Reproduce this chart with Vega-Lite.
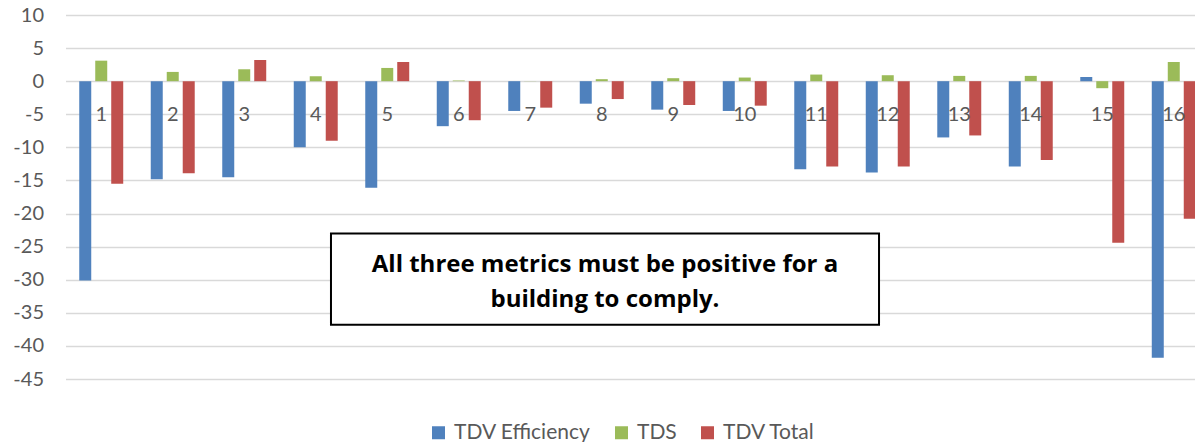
{
  "$schema": "https://vega.github.io/schema/vega-lite/v6.json",
  "autosize": "none",
  "width": 1129.5,
  "height": 364,
  "padding": {"left": 65.5, "top": 15, "right": 0, "bottom": 63},
  "background": "white",
  "config": {
    "view": {"stroke": null},
    "font": "Lato",
    "axisY": {
      "labelOverlap": false, "labelFlush": false,
      "domain": false, "ticks": false,
      "labelPadding": 22, "labelFontSize": 20, "labelColor": "#595959",
      "gridColor": "#D9D9D9", "gridWidth": 1.5
    }
  },
  "datasets": {
    "bars": [
      {"building": 1, "metric": "TDV Efficiency", "value": -30.1},
      {"building": 1, "metric": "TDS", "value": 3.1},
      {"building": 1, "metric": "TDV Total", "value": -15.5},
      {"building": 2, "metric": "TDV Efficiency", "value": -14.8},
      {"building": 2, "metric": "TDS", "value": 1.4},
      {"building": 2, "metric": "TDV Total", "value": -13.9},
      {"building": 3, "metric": "TDV Efficiency", "value": -14.5},
      {"building": 3, "metric": "TDS", "value": 1.8},
      {"building": 3, "metric": "TDV Total", "value": 3.2},
      {"building": 4, "metric": "TDV Efficiency", "value": -10.0},
      {"building": 4, "metric": "TDS", "value": 0.75},
      {"building": 4, "metric": "TDV Total", "value": -9.0},
      {"building": 5, "metric": "TDV Efficiency", "value": -16.1},
      {"building": 5, "metric": "TDS", "value": 2.0},
      {"building": 5, "metric": "TDV Total", "value": 2.9},
      {"building": 6, "metric": "TDV Efficiency", "value": -6.8},
      {"building": 6, "metric": "TDS", "value": 0.1},
      {"building": 6, "metric": "TDV Total", "value": -5.9},
      {"building": 7, "metric": "TDV Efficiency", "value": -4.5},
      {"building": 7, "metric": "TDS", "value": 0.02},
      {"building": 7, "metric": "TDV Total", "value": -4.0},
      {"building": 8, "metric": "TDV Efficiency", "value": -3.4},
      {"building": 8, "metric": "TDS", "value": 0.3},
      {"building": 8, "metric": "TDV Total", "value": -2.7},
      {"building": 9, "metric": "TDV Efficiency", "value": -4.3},
      {"building": 9, "metric": "TDS", "value": 0.45},
      {"building": 9, "metric": "TDV Total", "value": -3.6},
      {"building": 10, "metric": "TDV Efficiency", "value": -4.5},
      {"building": 10, "metric": "TDS", "value": 0.55},
      {"building": 10, "metric": "TDV Total", "value": -3.7},
      {"building": 11, "metric": "TDV Efficiency", "value": -13.3},
      {"building": 11, "metric": "TDS", "value": 1.0},
      {"building": 11, "metric": "TDV Total", "value": -12.9},
      {"building": 12, "metric": "TDV Efficiency", "value": -13.8},
      {"building": 12, "metric": "TDS", "value": 0.9},
      {"building": 12, "metric": "TDV Total", "value": -12.9},
      {"building": 13, "metric": "TDV Efficiency", "value": -8.5},
      {"building": 13, "metric": "TDS", "value": 0.8},
      {"building": 13, "metric": "TDV Total", "value": -8.2},
      {"building": 14, "metric": "TDV Efficiency", "value": -12.9},
      {"building": 14, "metric": "TDS", "value": 0.8},
      {"building": 14, "metric": "TDV Total", "value": -11.9},
      {"building": 15, "metric": "TDV Efficiency", "value": 0.65},
      {"building": 15, "metric": "TDS", "value": -1.06},
      {"building": 15, "metric": "TDV Total", "value": -24.4},
      {"building": 16, "metric": "TDV Efficiency", "value": -41.8},
      {"building": 16, "metric": "TDS", "value": 2.9},
      {"building": 16, "metric": "TDV Total", "value": -20.8}
    ],
    "buildings": [
      {"building": 1}, {"building": 2}, {"building": 3}, {"building": 4},
      {"building": 5}, {"building": 6}, {"building": 7}, {"building": 8},
      {"building": 9}, {"building": 10}, {"building": 11}, {"building": 12},
      {"building": 13}, {"building": 14}, {"building": 15}, {"building": 16}
    ],
    "note": [
      {"note": "All three metrics must be positive for a\nbuilding to comply."}
    ]
  },
  "layer": [
    {
      "layer": [
        {
          "data": {"name": "bars"},
          "mark": {"type": "bar", "strokeWidth": 0},
          "encoding": {
            "x": {
              "field": "building", "type": "ordinal", "sort": "ascending",
              "scale": {"range": [0, 1144], "paddingInner": 0.385, "paddingOuter": 0.1923},
              "axis": null
            },
            "xOffset": {
              "field": "metric", "type": "nominal",
              "sort": ["TDV Efficiency", "TDS", "TDV Total"],
              "scale": {"paddingInner": 0.25, "paddingOuter": 0}
            },
            "y": {
              "field": "value", "type": "quantitative",
              "scale": {"domain": [-45, 10], "nice": false, "zero": false},
              "axis": {"title": null, "values": [-45, -40, -35, -30, -25, -20, -15, -10, -5, 0, 5, 10], "labelExpr": "datum.value + ''"}
            },
            "color": {
              "field": "metric", "type": "nominal",
              "sort": ["TDV Efficiency", "TDS", "TDV Total"],
              "scale": {"domain": ["TDV Efficiency", "TDS", "TDV Total"], "range": ["#4F81BD", "#9BBB59", "#C0504D"]},
              "legend": {
                "title": null, "orient": "none", "direction": "horizontal",
                "legendX": 362.5, "legendY": 407, "padding": 0,
                "symbolType": "square", "symbolSize": 169, "symbolStrokeWidth": 0,
                "labelFontSize": 21, "labelColor": "#595959",
                "columnPadding": 20, "labelOffset": 5
              }
            }
          }
        },
        {
          "data": {"name": "buildings"},
          "mark": {"type": "text", "fontSize": 20, "color": "#595959", "baseline": "alphabetic", "align": "center"},
          "encoding": {
            "x": {
              "field": "building", "type": "ordinal", "sort": "ascending",
              "scale": {"range": [0, 1144], "paddingInner": 0.385, "paddingOuter": 0.1923},
              "axis": null
            },
            "y": {"datum": -5.95, "type": "quantitative", "axis": {"title": null, "values": [-45, -40, -35, -30, -25, -20, -15, -10, -5, 0, 5, 10], "labelExpr": "datum.value + ''"}},
            "text": {"field": "building", "type": "ordinal"}
          }
        }
      ]
    },
    {
      "data": {"name": "note"},
      "layer": [
        {
          "mark": {"type": "rect", "fill": "white", "stroke": "black", "strokeWidth": 2},
          "encoding": {
            "x": {"datum": 3.713, "type": "quantitative", "scale": {"domain": [0, 16], "range": [0, 1144], "nice": false, "zero": false}, "axis": null},
            "x2": {"datum": 11.378},
            "y": {"datum": -23.0, "type": "quantitative", "axis": {"title": null, "values": [-45, -40, -35, -30, -25, -20, -15, -10, -5, 0, 5, 10], "labelExpr": "datum.value + ''"}},
            "y2": {"datum": -36.8}
          }
        },
        {
          "mark": {"type": "text", "font": "Open Sans", "fontWeight": "bold", "fontSize": 24, "color": "black", "align": "center", "baseline": "alphabetic", "lineBreak": "\n", "lineHeight": 35.5},
          "encoding": {
            "x": {"datum": 7.545, "type": "quantitative", "scale": {"domain": [0, 16], "range": [0, 1144], "nice": false, "zero": false}, "axis": null},
            "y": {"datum": -28.76, "type": "quantitative", "axis": {"title": null, "values": [-45, -40, -35, -30, -25, -20, -15, -10, -5, 0, 5, 10], "labelExpr": "datum.value + ''"}},
            "text": {"field": "note", "type": "nominal"}
          }
        }
      ]
    }
  ],
  "resolve": {"scale": {"x": "independent"}}
}
